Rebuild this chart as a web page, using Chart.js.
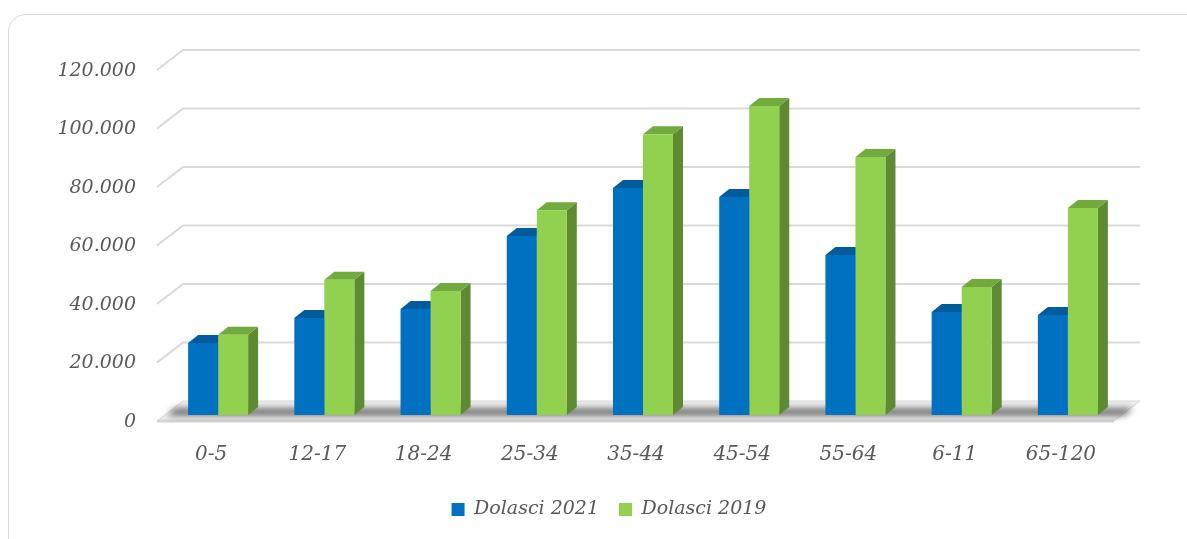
<!DOCTYPE html>
<html>
<head>
<meta charset="utf-8">
<script src="https://cdn.jsdelivr.net/npm/chart.js@4/dist/chart.umd.min.js"></script>
<style>
    html, body { margin: 0; padding: 0; background: #fff; overflow: hidden; }
    .frame {
        position: absolute; left: 8px; top: 14px; width: 1220px; height: 560px;
        border: 1px solid #d9d9d9; border-radius: 18px;
    }
    #wrap { position: absolute; left: 0; top: 0; width: 1187px; height: 539px; }
</style>
</head>
<body>
<div class="frame"></div>
<div id="wrap"><canvas id="chart" width="1187" height="539"></canvas></div>
<script>
// ── DATA ──────────────────────────────────────────────────────
const categories  = ['0-5', '12-17', '18-24', '25-34', '35-44', '45-54', '55-64', '6-11', '65-120'];
const dolasci2021 = [24600, 33200, 36200, 61200, 77600, 74500, 54700, 35200, 34200];
const dolasci2019 = [27400, 46200, 42400, 70000, 96000, 105600, 88200, 43800, 70800];
const yTicks      = [0, 20000, 40000, 60000, 80000, 100000, 120000];

const seriesNames = ['Dolasci 2021', 'Dolasci 2019'];
const faceColors  = ['#0070C0', '#92D050'];
const topColors   = ['#005B9C', '#72AA3E'];
const sideColors  = ['#004F88', '#5E8A31'];

function fmt(v) {
    return v === 0 ? '0' : (v / 1000) + '.000';
}

// ── 3D LOOK ───────────────────────────────────────────────────
const bar3d = {
    id: 'bar3d',
    beforeDatasetsDraw(chart) {
        const ctx = chart.ctx;
        const area = chart.chartArea;
        const y = chart.scales.y;
        const wx = 26;                   // wall depth
        const back = -14, front = 6;     // offsets from scale pixel

        ctx.save();
        // gridlines on back wall + left slant
        ctx.strokeStyle = '#d9d9d9';
        ctx.lineWidth = 2;
        yTicks.slice(1).forEach(v => {
            const py = y.getPixelForValue(v);
            ctx.beginPath();
            ctx.moveTo(area.left - 8, py + front);
            ctx.lineTo(area.left - 8 + wx, py + back);
            ctx.lineTo(area.right + 19, py + back);
            ctx.stroke();
        });

        // floor
        const p0 = y.getPixelForValue(0);
        ctx.fillStyle = '#eeeeee';
        ctx.beginPath();
        ctx.moveTo(area.left - 8, p0 + front);
        ctx.lineTo(area.right + 19 - wx, p0 + front);
        ctx.lineTo(area.right + 19, p0 + back);
        ctx.lineTo(area.left - 8 + wx, p0 + back);
        ctx.closePath();
        ctx.fill();
        ctx.strokeStyle = '#d6d6d6';
        ctx.lineWidth = 1;
        ctx.stroke();
        ctx.lineWidth = 3;
        ctx.beginPath();
        ctx.moveTo(area.left - 8, p0 + front);
        ctx.lineTo(area.right + 19 - wx, p0 + front);
        ctx.stroke();

        // shadow strip on the floor
        ctx.save();
        ctx.filter = 'blur(3px)';
        ctx.fillStyle = 'rgba(40,40,40,0.6)';
        ctx.beginPath();
        ctx.moveTo(area.left + 2, p0 + 1);
        ctx.lineTo(area.right + 4, p0 + 1);
        ctx.lineTo(area.right + 12, p0 - 7);
        ctx.lineTo(area.left + 10, p0 - 7);
        ctx.closePath();
        ctx.fill();
        ctx.restore();

        // tops and sides of bars
        const dx = 10, dy = 8;
        chart.data.datasets.forEach((ds, i) => {
            chart.getDatasetMeta(i).data.forEach(bar => {
                const l = bar.x - bar.width / 2, r = bar.x + bar.width / 2;
                ctx.fillStyle = sideColors[i];
                ctx.beginPath();
                ctx.moveTo(r, bar.y);
                ctx.lineTo(r + dx, bar.y - dy);
                ctx.lineTo(r + dx, bar.base - dy);
                ctx.lineTo(r, bar.base);
                ctx.closePath();
                ctx.fill();
                ctx.fillStyle = topColors[i];
                ctx.beginPath();
                ctx.moveTo(l, bar.y);
                ctx.lineTo(r, bar.y);
                ctx.lineTo(r + dx, bar.y - dy);
                ctx.lineTo(l + dx, bar.y - dy);
                ctx.closePath();
                ctx.fill();
            });
        });
        ctx.restore();
    }
};

const family = "'DejaVu Serif', serif";
const xFont = { family, style: 'italic', size: 20 };
const yFont = { family, style: 'italic', size: 19 };

new Chart(document.getElementById('chart'), {
    type: 'bar',
    data: {
        labels: categories,
        datasets: [
            { label: seriesNames[0], data: dolasci2021, backgroundColor: faceColors[0], yAxisID: 'y' },
            { label: seriesNames[1], data: dolasci2019, backgroundColor: faceColors[1], yAxisID: 'y' }
        ]
    },
    options: {
        responsive: false,
        animation: false,
        layout: { padding: { left: 31, right: 0, top: 64, bottom: 10 } },
        datasets: { bar: { categoryPercentage: 0.565, barPercentage: 1 } },
        scales: {
            x: {
                grid: { display: false },
                border: { display: false },
                ticks: { font: xFont, color: '#595959', padding: 20, labelOffset: -7 },
                afterFit: s => { s.height = 65; }
            },
            y: {
                min: 0, max: 120000,
                grid: { display: false },
                border: { display: false },
                ticks: {
                    font: yFont, color: '#595959', padding: 21, labelOffset: 7,
                    stepSize: 20000,
                    callback: v => fmt(v)
                },
                afterFit: s => { s.width = 134; }
            },
            yR: {
                position: 'right',
                grid: { display: false },
                border: { display: false },
                ticks: { display: false },
                afterFit: s => { s.width = 66; }
            }
        },
        plugins: {
            legend: {
                position: 'bottom',
                labels: { font: yFont, color: '#595959', boxWidth: 13, boxHeight: 13, padding: 20 }
            },
            tooltip: { enabled: false }
        }
    },
    plugins: [bar3d]
});
</script>
</body>
</html>
